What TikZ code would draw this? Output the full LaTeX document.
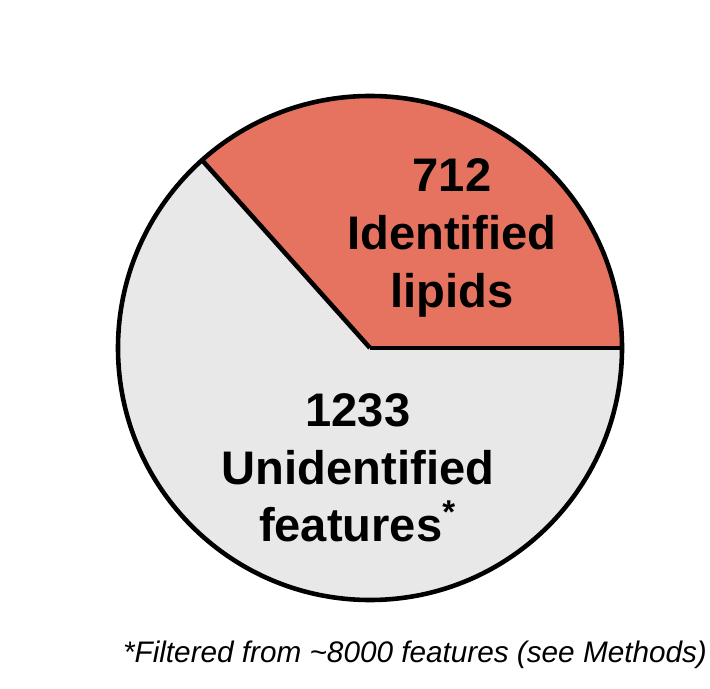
\documentclass[tikz,border=0pt]{standalone}
\usepackage{fontspec}
\setmainfont{Liberation Sans}
\definecolor{lipidred}{HTML}{E5735F}
\definecolor{featgrey}{HTML}{E8E8E8}
\begin{document}
\begin{tikzpicture}[x=0.01cm,y=-0.01cm]
\tikzstyle{slice} = [draw=black, line width=1.3pt]
\tikzstyle{label} = [align=center, font=\fontsize{13.4}{16.4}\selectfont\bfseries]

\useasboundingbox (0,0) rectangle (710,689);
\coordinate (c) at (370,348);

\fill[featgrey] (c) circle (252);
\fill[lipidred] (c) -- +(0:252) arc[start angle=0, end angle=-131.8, radius=252] -- cycle;
\draw[slice] (c) circle (252);
\draw[slice] (c) -- +(0:252);
\draw[slice] (c) -- +(-131.8:252);

\node[label] (lipids) at (452,238) {712\\Identified\\lipids};
\node[label] (features) at (358,468) {1233\\Unidentified\\features\textsuperscript{*}};
\node[font=\fontsize{8.45}{10}\selectfont\itshape] (note) at (415,655) {*Filtered from \textasciitilde 8000 features (see Methods)};
\end{tikzpicture}
\end{document}
